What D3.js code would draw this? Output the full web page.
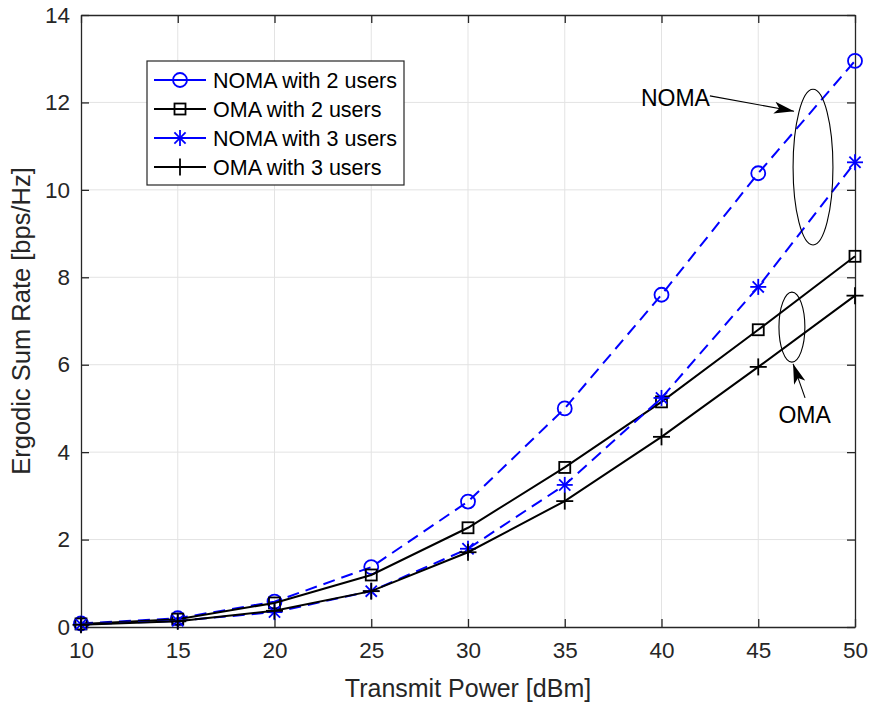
<!DOCTYPE html>
<html>
<head>
<meta charset="utf-8">
<style>
  body { margin: 0; background: #fff; }
  svg text { font-family: "Liberation Sans", Arial, sans-serif; fill: #262626; }
</style>
</head>
<body>
<svg id="chart" width="870" height="704"></svg>
<script src="https://cdnjs.cloudflare.com/ajax/libs/d3/7.8.5/d3.min.js"></script>
<script>
// data
const power = [10, 15, 20, 25, 30, 35, 40, 45, 50];
const noma2 = [0.08, 0.20, 0.58, 1.37, 2.87, 5.00, 7.60, 10.38, 12.95];
const oma2  = [0.07, 0.18, 0.55, 1.19, 2.27, 3.65, 5.15, 6.80, 8.48];
const noma3 = [0.06, 0.14, 0.34, 0.82, 1.79, 3.25, 5.24, 7.78, 10.63];
const oma3  = [0.05, 0.13, 0.37, 0.82, 1.71, 2.88, 4.35, 5.95, 7.58];
const xTicks = [10, 15, 20, 25, 30, 35, 40, 45, 50];
const yTicks = [0, 2, 4, 6, 8, 10, 12, 14];
const seriesNames = ["NOMA with 2 users", "OMA with 2 users", "NOMA with 3 users", "OMA with 3 users"];

const margin = {left: 81, top: 15, right: 15, bottom: 77};
const width = 870, height = 704;
const svg = d3.select("#chart");

const x = d3.scaleLinear().domain([10, 50]).range([margin.left, width - margin.right]);
const y = d3.scaleLinear().domain([0, 14]).range([height - margin.bottom, margin.top]);

const blue = "#0000ff", black = "#000000", axisCol = "#262626";

// grid
const grid = svg.append("g").attr("stroke", "#e3e3e3").attr("stroke-width", 1);
grid.selectAll(".gx").data(xTicks.slice(1, -1)).join("line")
  .attr("x1", d => x(d)).attr("x2", d => x(d))
  .attr("y1", y(0)).attr("y2", y(14));
grid.selectAll(".gy").data(yTicks.slice(1, -1)).join("line")
  .attr("x1", x(10)).attr("x2", x(50))
  .attr("y1", d => y(d)).attr("y2", d => y(d));

// axes (MATLAB style: inward ticks on all four sides)
const tk = 8;
svg.append("g").attr("transform", `translate(0,${y(0)})`)
  .call(d3.axisBottom(x).tickValues(xTicks).tickSizeInner(-tk).tickSizeOuter(0).tickPadding(15))
  .call(g => g.selectAll("text").attr("font-size", 22.5).attr("dy", "0.71em"));
svg.append("g").attr("transform", `translate(0,${y(14)})`)
  .call(d3.axisTop(x).tickValues(xTicks).tickSizeInner(-tk).tickSizeOuter(0).tickFormat(""));
svg.append("g").attr("transform", `translate(${x(10)},0)`)
  .call(d3.axisLeft(y).tickValues(yTicks).tickSizeInner(-tk).tickSizeOuter(0).tickPadding(11))
  .call(g => g.selectAll("text").attr("font-size", 22.5));
svg.append("g").attr("transform", `translate(${x(50)},0)`)
  .call(d3.axisRight(y).tickValues(yTicks).tickSizeInner(-tk).tickSizeOuter(0).tickFormat(""));
svg.selectAll(".domain, .tick line").attr("stroke", axisCol).attr("stroke-width", 1.3);

// axis labels
svg.append("text").attr("x", x(30)).attr("y", 697).attr("text-anchor", "middle")
  .attr("font-size", 25).text("Transmit Power [dBm]");
svg.append("text").attr("transform", `translate(30,${y(7)}) rotate(-90)`)
  .attr("text-anchor", "middle").attr("font-size", 25.5).text("Ergodic Sum Rate [bps/Hz]");

// markers
function marker(g, type, color) {
  if (type === "circle") {
    g.append("circle").attr("r", 7).attr("fill", "none").attr("stroke", color).attr("stroke-width", 1.8);
  } else if (type === "square") {
    g.append("rect").attr("x", -5.5).attr("y", -5.5).attr("width", 11).attr("height", 11)
      .attr("fill", "none").attr("stroke", color).attr("stroke-width", 1.8);
  } else if (type === "star") {
    const s = 8;
    const p = [[-s, 0, s, 0], [0, -s, 0, s], [-s * 0.7, -s * 0.7, s * 0.7, s * 0.7], [-s * 0.7, s * 0.7, s * 0.7, -s * 0.7]];
    p.forEach(a => g.append("line").attr("x1", a[0]).attr("y1", a[1]).attr("x2", a[2]).attr("y2", a[3])
      .attr("stroke", color).attr("stroke-width", 1.8));
  } else {
    const s = 8.5;
    [[-s, 0, s, 0], [0, -s, 0, s]].forEach(a => g.append("line").attr("x1", a[0]).attr("y1", a[1])
      .attr("x2", a[2]).attr("y2", a[3]).attr("stroke", color).attr("stroke-width", 1.8));
  }
}

const series = [
  {name: seriesNames[0], values: noma2, color: blue, dash: "12,7", marker: "circle"},
  {name: seriesNames[1], values: oma2, color: black, dash: null, marker: "square"},
  {name: seriesNames[2], values: noma3, color: blue, dash: "12,7", marker: "star"},
  {name: seriesNames[3], values: oma3, color: black, dash: null, marker: "plus"}
];

const line = d3.line().x((d, i) => x(power[i])).y(d => y(d));

series.forEach(s => {
  svg.append("path").datum(s.values).attr("d", line)
    .attr("fill", "none").attr("stroke", s.color).attr("stroke-width", 2)
    .attr("stroke-dasharray", s.dash);
  s.values.forEach((v, i) => {
    const g = svg.append("g").attr("transform", `translate(${x(power[i])},${y(v)})`);
    marker(g, s.marker, s.color);
  });
});

// legend
const lg = svg.append("g").attr("transform", "translate(147,61)");
lg.append("rect").attr("width", 257).attr("height", 124).attr("fill", "#fff")
  .attr("stroke", axisCol).attr("stroke-width", 1.2);
series.forEach((s, i) => {
  const ry = 19 + i * 29;
  lg.append("line").attr("x1", 7).attr("x2", 59).attr("y1", ry).attr("y2", ry)
    .attr("stroke", s.color).attr("stroke-width", 2);
  marker(lg.append("g").attr("transform", `translate(33,${ry})`), s.marker, s.color);
  lg.append("text").attr("x", 66).attr("y", ry).attr("dy", "0.36em")
    .attr("font-size", 21.5).style("fill", "#000").text(s.name);
});

// annotations (positions in data units)
const ann = svg.append("g");
svg.append("defs").append("marker").attr("id", "arrow").attr("viewBox", "0 0 20 12")
  .attr("refX", 20).attr("refY", 6).attr("markerWidth", 20).attr("markerHeight", 12)
  .attr("markerUnits", "userSpaceOnUse").attr("orient", "auto")
  .append("path").attr("d", "M0,0 L20,6 L0,12 L5,6 Z").attr("fill", "#000");

// NOMA ellipse
ann.append("ellipse").attr("cx", x(47.83)).attr("cy", y(10.52))
  .attr("rx", x(11.03) - x(10)).attr("ry", y(0) - y(1.78))
  .attr("fill", "none").attr("stroke", "#000").attr("stroke-width", 1.1);
ann.append("line").attr("x1", x(42.5)).attr("y1", y(12.15)).attr("x2", x(46.85)).attr("y2", y(11.8))
  .attr("stroke", "#000").attr("stroke-width", 1.1).attr("marker-end", "url(#arrow)");
ann.append("text").attr("x", x(42.5)).attr("y", y(12.1)).attr("dy", "0.35em")
  .attr("text-anchor", "end").attr("font-size", 23).style("fill", "#000").text("NOMA");

// OMA ellipse
ann.append("ellipse").attr("cx", x(46.74)).attr("cy", y(6.86))
  .attr("rx", x(10.67) - x(10)).attr("ry", y(0) - y(0.8))
  .attr("fill", "none").attr("stroke", "#000").attr("stroke-width", 1.1);
ann.append("line").attr("x1", x(47.42)).attr("y1", y(5.24)).attr("x2", x(46.8)).attr("y2", y(6.02))
  .attr("stroke", "#000").attr("stroke-width", 1.1).attr("marker-end", "url(#arrow)");
ann.append("text").attr("x", x(47.4)).attr("y", y(4.85)).attr("dy", "0.35em")
  .attr("text-anchor", "middle").attr("font-size", 23).style("fill", "#000").text("OMA");
</script>
</body>
</html>
